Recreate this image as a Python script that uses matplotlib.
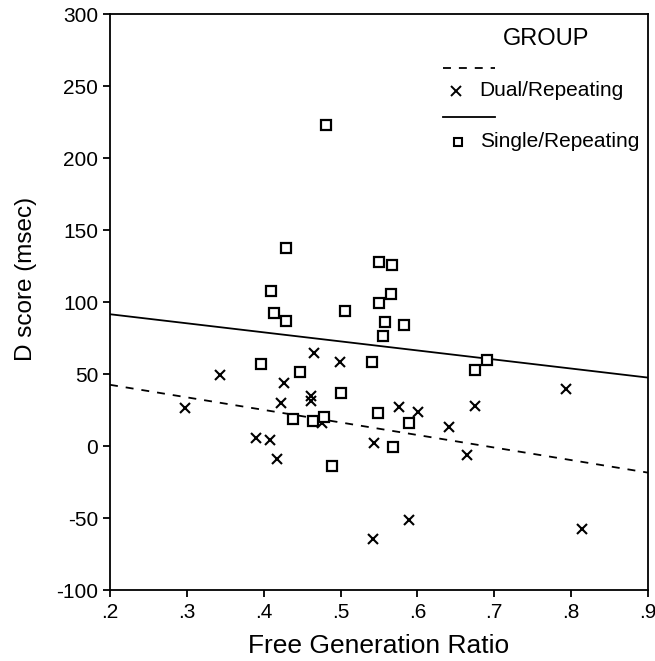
import matplotlib
matplotlib.use("Agg")
import matplotlib.pyplot as plt
from matplotlib.ticker import FixedLocator, FuncFormatter

plt.rcParams["font.family"] = ["Liberation Sans", "DejaVu Sans"]
plt.rcParams["axes.unicode_minus"] = False

# Dual/Repeating group (x markers)
dual_ratio = [0.298, 0.343, 0.390, 0.408, 0.417, 0.423, 0.427, 0.462, 0.462, 0.466, 0.476,
              0.499, 0.543, 0.542, 0.576, 0.589, 0.601, 0.641, 0.664, 0.675, 0.793, 0.814]
dual_score = [26.5, 49.0, 5.5, 4.3, -8.9, 29.6, 43.8, 34.7, 31.0, 64.7, 15.7,
              58.5, 1.8, -64.7, 26.8, -51.3, 23.8, 13.4, -6.3, 28.0, 39.6, -57.8]

# Single/Repeating group (square markers)
single_ratio = [0.397, 0.410, 0.414, 0.429, 0.429, 0.438, 0.447, 0.464, 0.479, 0.481, 0.489,
                0.500, 0.506, 0.541, 0.549, 0.550, 0.550, 0.555, 0.558, 0.566, 0.567, 0.568,
                0.583, 0.589, 0.675, 0.691]
single_score = [56.7, 107.8, 92.5, 87.1, 137.2, 19.0, 51.4, 17.6, 20.3, 223.0, -14.2,
                37.0, 93.6, 58.1, 22.6, 127.7, 99.2, 76.7, 86.0, 105.7, 125.4, -0.5,
                84.3, 16.2, 53.0, 59.5]

# fitted regression lines (end points)
fit_ratio = [0.2, 0.9]
dual_fit = [42.5, -18.5]
single_fit = [91.5, 47.5]

x_ticks = [0.2, 0.3, 0.4, 0.5, 0.6, 0.7, 0.8, 0.9]
y_ticks = [-100, -50, 0, 50, 100, 150, 200, 250, 300]

fig = plt.figure(figsize=(6.55, 6.61), dpi=100)
ax = fig.add_axes([110 / 655, 1 - 590 / 661, 538 / 655, 576 / 661])

ax.plot(fit_ratio, dual_fit, color="black", lw=1.3, dashes=(4.4, 4.4))
ax.plot(fit_ratio, single_fit, color="black", lw=1.3)
ax.plot(dual_ratio, dual_score, ls="none", marker="x", ms=7, mew=1.5, color="black")
ax.plot(single_ratio, single_score, ls="none", marker="s", ms=6.5, mew=1.6,
        mfc="white", mec="black")

ax.set_xlim(0.2, 0.9)
ax.set_ylim(-100, 300)
ax.xaxis.set_major_locator(FixedLocator(x_ticks))
ax.yaxis.set_major_locator(FixedLocator(y_ticks))
ax.xaxis.set_major_formatter(FuncFormatter(lambda v, p: f"{v:.1f}".lstrip("0")))
ax.tick_params(direction="out", length=5, width=1.3, labelsize=15, color="black")
ax.tick_params(axis="x", pad=4)
for s in ax.spines.values():
    s.set_linewidth(1.3)

ax.set_xlabel("Free Generation Ratio", fontsize=19, labelpad=9)
ax.set_ylabel("D score (msec)", fontsize=17.5, labelpad=14, y=0.54)

# legend, drawn in the SPSS style
tr = ax.transAxes
ax.text(0.81, 0.957, "GROUP", transform=tr, ha="center", va="center", fontsize=17)
ax.plot([0.619, 0.716], [0.906, 0.906], transform=tr, color="black", lw=1.3, dashes=(4.4, 4.4))
ax.plot([0.644], [0.867], transform=tr, marker="x", ms=6.5, mew=1.4, color="black")
ax.text(0.686, 0.867, "Dual/Repeating", transform=tr, ha="left", va="center", fontsize=15)
ax.plot([0.619, 0.716], [0.821, 0.821], transform=tr, color="black", lw=1.3)
ax.plot([0.647], [0.778], transform=tr, marker="s", ms=6, mew=1.5, mfc="white", mec="black")
ax.text(0.688, 0.778, "Single/Repeating", transform=tr, ha="left", va="center", fontsize=15)

fig.savefig("out.png", dpi=100)
